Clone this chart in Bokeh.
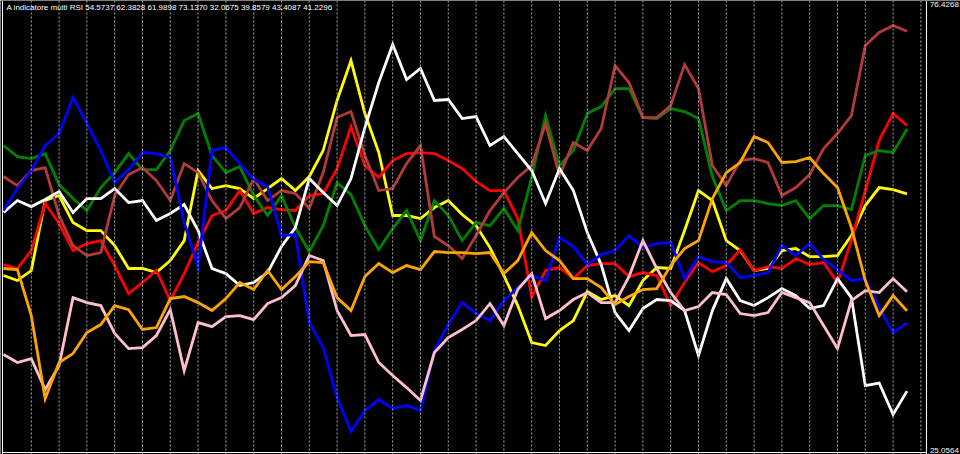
from bokeh.plotting import figure
from bokeh.models import Range1d, Span, Label, ColumnDataSource
from bokeh.embed import file_html
from bokeh.resources import INLINE
from bokeh.core.properties import value

# bar index of each sample (every 2nd bar)
bars = list(range(0, 131, 2))

scale_max = 76.4268
scale_min = 25.0564

yellow = [45.26, 44.69, 45.83, 53.82, 54.39, 51.31, 50.39, 50.39, 48.68, 46.06,
          46.06, 45.60, 46.97, 49.25, 57.24, 55.19, 55.53, 55.19, 54.05, 55.19,
          56.33, 54.96, 56.56, 59.53, 65.24, 69.80, 63.75, 59.30, 52.11, 52.11,
          51.76, 53.02, 53.82, 52.22, 50.96, 48.45, 45.26, 41.83, 37.61, 37.27,
          38.98, 40.12, 43.43, 42.52, 42.97, 41.83, 44.69, 46.17, 46.06, 50.39,
          54.96, 53.82, 49.25, 48.11, 45.83, 46.06, 48.11, 48.34, 47.42, 47.42,
          47.54, 49.82, 53.25, 55.30, 55.07, 54.5737]
red = [46.51, 46.06, 48.11, 53.48, 51.20, 48.11, 48.91, 49.25, 46.40, 43.20,
       44.46, 45.83, 42.40, 45.48, 49.02, 52.11, 52.68, 54.96, 52.34, 53.02,
       52.79, 52.68, 54.39, 54.62, 57.47, 62.27, 57.81, 56.45, 58.38, 59.18,
       59.30, 59.18, 58.38, 57.47, 56.01, 54.96, 54.96, 51.76, 42.80, 45.83,
       46.17, 44.91, 46.40, 46.63, 46.63, 45.14, 45.60, 45.26, 41.83, 44.46,
       46.74, 45.71, 46.40, 48.23, 45.83, 46.28, 46.06, 47.20, 46.51, 46.74,
       44.46, 49.25, 54.96, 60.67, 63.75, 62.3828]
green = [60.10, 58.84, 58.61, 59.18, 55.64, 54.05, 52.68, 55.30, 57.01, 59.18,
         57.36, 57.36, 59.53, 62.95, 63.75, 58.96, 57.01, 57.70, 54.39, 52.11,
         54.39, 50.74, 48.00, 50.96, 55.87, 54.50, 50.96, 48.23, 50.62, 52.68,
         49.25, 53.82, 52.11, 49.25, 51.31, 50.96, 52.91, 50.39, 56.45, 63.52,
         57.81, 59.53, 63.75, 64.55, 66.60, 66.60, 63.29, 63.18, 64.32, 63.98,
         63.18, 56.56, 52.68, 53.82, 53.82, 53.48, 53.25, 53.82, 51.76, 53.25,
         53.25, 52.79, 58.96, 59.53, 59.30, 61.9898]
brown = [56.56, 55.53, 57.24, 57.58, 52.11, 48.68, 47.54, 47.88, 54.39, 56.79,
         57.58, 56.10, 53.82, 58.04, 57.01, 53.82, 51.76, 53.02, 56.33, 53.82,
         54.96, 54.62, 52.91, 57.01, 63.29, 63.98, 58.96, 54.96, 55.19, 58.04,
         60.10, 49.71, 48.68, 47.20, 49.82, 52.68, 54.73, 56.45, 57.81, 62.61,
         56.67, 60.44, 59.53, 62.04, 69.23, 67.29, 63.29, 63.29, 64.66, 69.34,
         66.60, 57.81, 55.53, 58.38, 58.61, 58.16, 54.39, 55.30, 56.79, 59.76,
         61.47, 63.52, 71.51, 73.00, 73.80, 73.1370]
white = [52.45, 53.82, 53.13, 53.93, 54.85, 52.45, 54.05, 54.05, 55.19, 53.59,
         53.82, 51.54, 52.34, 53.36, 50.39, 46.06, 45.48, 44.12, 44.46, 45.60,
         48.57, 50.74, 56.33, 54.73, 53.25, 56.33, 62.15, 67.29, 71.63, 67.63,
         68.89, 65.24, 65.35, 63.18, 63.41, 60.10, 61.12, 59.18, 57.24, 53.48,
         57.47, 54.96, 50.16, 46.51, 41.03, 38.98, 41.49, 42.52, 42.40, 41.26,
         36.13, 41.26, 44.91, 42.40, 41.83, 42.74, 43.77, 42.97, 41.49, 41.83,
         44.91, 42.74, 32.70, 32.99, 29.39, 32.0675]
blue = [52.68, 55.19, 57.24, 60.10, 61.47, 65.58, 62.61, 59.53, 55.87, 57.36,
        59.30, 59.18, 58.73, 51.31, 46.28, 59.53, 59.87, 58.04, 56.22, 55.42,
        49.82, 49.94, 39.89, 37.04, 31.33, 27.45, 29.84, 31.10, 30.07, 30.42,
        29.84, 36.70, 39.66, 42.17, 40.92, 40.12, 42.40, 43.89, 45.26, 44.69,
        49.59, 48.57, 46.51, 47.65, 48.11, 49.82, 48.45, 48.91, 49.02, 44.91,
        47.42, 46.85, 46.74, 45.03, 45.26, 45.60, 48.68, 47.54, 48.91, 47.08,
        45.94, 44.69, 44.91, 41.60, 38.75, 39.8579]
pink = [36.24, 35.33, 35.78, 32.24, 35.00, 42.74, 42.17, 41.83, 38.64, 36.92,
        37.04, 38.41, 41.37, 34.41, 39.89, 39.43, 40.58, 40.69, 40.23, 42.06,
        42.74, 44.12, 47.54, 46.97, 41.26, 38.41, 38.52, 35.33, 33.84, 32.47,
        31.00, 36.47, 38.18, 39.10, 40.12, 42.06, 39.55, 43.66, 45.48, 40.35,
        41.26, 42.52, 43.32, 42.17, 42.17, 45.14, 49.25, 46.06, 43.32, 41.26,
        41.72, 43.32, 43.09, 40.92, 40.69, 41.03, 43.32, 42.74, 42.17, 39.55,
        36.92, 42.40, 43.54, 43.32, 44.91, 43.4087]
orange = [46.06, 45.94, 40.69, 31.20, 35.33, 36.35, 38.75, 39.66, 41.83, 41.37,
          39.10, 39.32, 42.63, 42.86, 42.17, 41.26, 42.63, 44.46, 43.66, 45.83,
          43.66, 45.14, 46.85, 46.74, 42.74, 41.26, 45.14, 46.63, 45.60, 46.40,
          45.94, 48.00, 47.88, 47.88, 47.77, 47.88, 45.48, 46.97, 50.16, 48.11,
          46.97, 44.91, 44.91, 43.89, 41.95, 42.86, 43.66, 43.77, 46.40, 48.34,
          49.25, 54.05, 57.01, 58.16, 61.12, 60.44, 58.16, 58.27, 58.73, 56.90,
          55.30, 50.74, 44.69, 40.69, 42.97, 41.2296]

series = [("yellow", yellow, "#ffff00"), ("red", red, "#ff0000"),
          ("green", green, "#008000"), ("brown", brown, "#b23a3a"),
          ("white", white, "#ffffff"), ("blue", blue, "#0000ff"),
          ("pink", pink, "#ffc0cb"), ("orange", orange, "#ffa500")]

grid_bars = list(range(4, 133, 4))

W, H = 960, 454
p = figure(width=W, height=H, output_backend="svg", toolbar_location=None,
           x_range=Range1d(-0.43, 137.7), y_range=Range1d(24.83, 76.655),
           x_axis_type=None, y_axis_type=None,
           background_fill_color="black", border_fill_color="black",
           min_border=0, outline_line_color=None)
p.xgrid.visible = False
p.ygrid.visible = False

for gb in grid_bars:
    p.add_layout(Span(location=gb, dimension="height", line_color="#a8a8a8",
                      line_width=1, line_dash="2 2"))

# frame lines
p.add_layout(Span(location=-0.14, dimension="height", line_color="#ffffff", line_width=1))
p.add_layout(Span(location=132.8, dimension="height", line_color="#ffffff", line_width=1))
p.segment(x0=[-0.14], y0=[scale_min], x1=[132.8], y1=[scale_min], line_color="#ffffff", line_width=1)

for name, vals, col in series:
    src = ColumnDataSource(dict(x=bars, y=vals))
    p.line("x", "y", source=src, line_color=col, line_width=2.8, line_join="miter")

FONT = "Liberation Sans"
font = value(FONT)
p.text(x=[133.3], y=[scale_max], text=[f"{scale_max:.4f}"], text_color="#ffffff",
       text_font=font, text_font_size="8px", text_baseline="top", text_align="left")
p.text(x=[133.3], y=[scale_min], text=[f"{scale_min:.4f}"], text_color="#ffffff",
       text_font=font, text_font_size="8px", text_baseline="bottom", text_align="left")

title = "A indicatore multi RSI " + " ".join(f"{s[1][-1]:.4f}" for s in series)
p.add_layout(Label(x=6, y=H - 7, x_units="screen", y_units="screen", text=title,
                   text_color="#ffffff", text_font=FONT, text_font_size="8px",
                   text_baseline="middle", text_align="left"))

open("out.html", "w").write(file_html(p, INLINE))
